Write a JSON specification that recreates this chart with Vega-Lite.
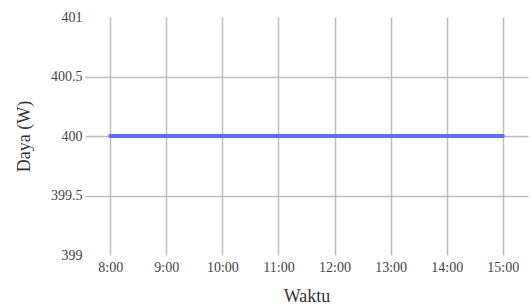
{
  "$schema": "https://vega.github.io/schema/vega-lite/v6.json",
  "width": 443,
  "height": 238,
  "autosize": {"type": "none"},
  "padding": {"left": 85, "top": 17, "right": 3, "bottom": 52},
  "background": "white",
  "config": {
    "view": {"stroke": null},
    "axis": {
      "labelFont": "Liberation Serif",
      "titleFont": "Liberation Serif",
      "labelFontSize": 14,
      "titleFontSize": 18,
      "titleFontWeight": "normal",
      "labelColor": "#444444",
      "titleColor": "#333333",
      "gridColor": "#bdbdbd",
      "gridWidth": 1.5,
      "domain": false,
      "ticks": false
    }
  },
  "data": {
    "values": [
      {"Waktu": "8:00", "Daya": 400},
      {"Waktu": "9:00", "Daya": 400},
      {"Waktu": "10:00", "Daya": 400},
      {"Waktu": "11:00", "Daya": 400},
      {"Waktu": "12:00", "Daya": 400},
      {"Waktu": "13:00", "Daya": 400},
      {"Waktu": "14:00", "Daya": 400},
      {"Waktu": "15:00", "Daya": 400}
    ]
  },
  "mark": {"type": "line", "color": "#5c6ef8", "strokeWidth": 4, "strokeCap": "round"},
  "encoding": {
    "x": {
      "field": "Waktu",
      "type": "ordinal",
      "sort": null,
      "scale": {"type": "point", "padding": 0.45},
      "axis": {"title": "Waktu", "labelAngle": 0, "labelPadding": 5, "titlePadding": 13, "grid": true}
    },
    "y": {
      "field": "Daya",
      "type": "quantitative",
      "scale": {"domain": [399, 401], "nice": false, "zero": false},
      "axis": {
        "title": "Daya (W)",
        "values": [399, 399.5, 400, 400.5, 401],
        "labelExpr": "datum.value + ''",
        "labelPadding": 3,
        "titlePadding": 17,
        "grid": true,
        "gridOpacity": {"condition": {"test": "datum.value == 399 || datum.value == 401", "value": 0}, "value": 1}
      }
    }
  }
}
